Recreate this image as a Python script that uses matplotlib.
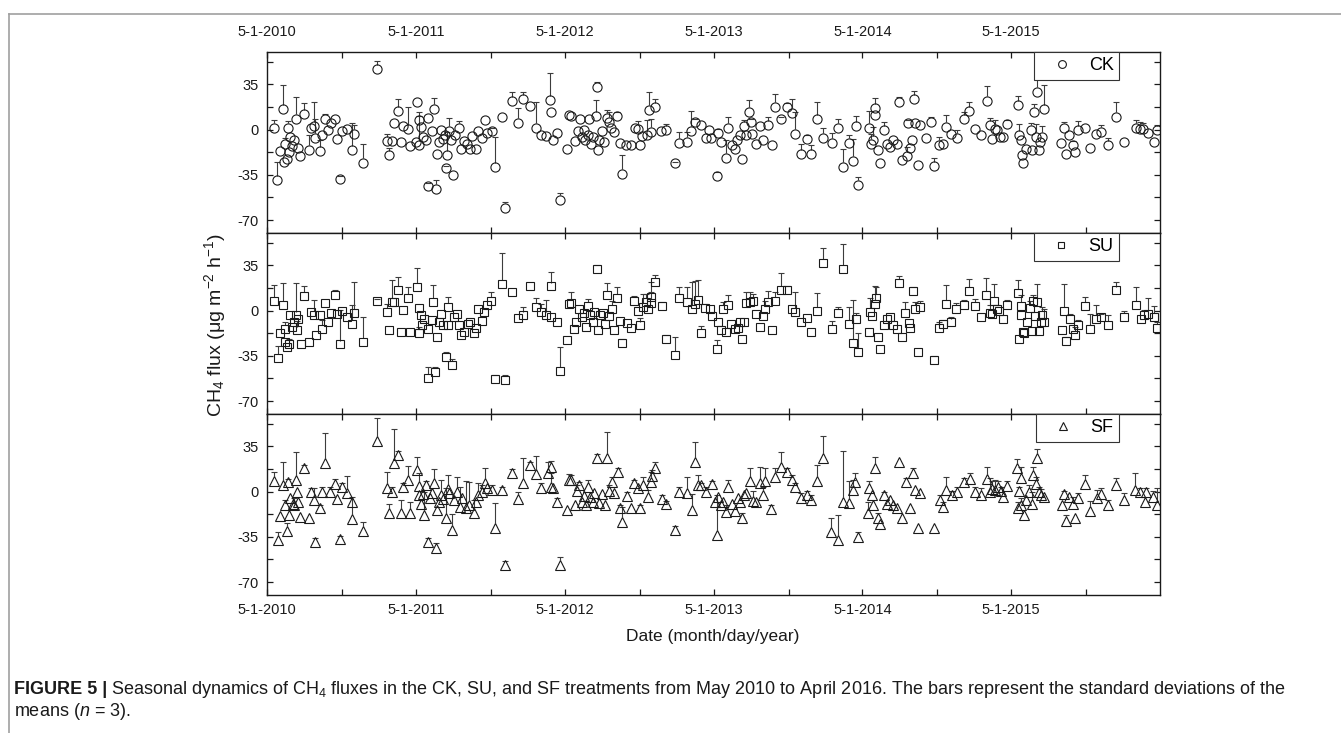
import numpy as np
import matplotlib
matplotlib.use('Agg')
import matplotlib.pyplot as plt
import matplotlib.dates as mdates
from matplotlib.lines import Line2D
from matplotlib.ticker import FixedLocator, FuncFormatter

plt.rcParams['font.family'] = ['Liberation Sans', 'DejaVu Sans']
plt.rcParams['mathtext.fontset'] = 'custom'
plt.rcParams['mathtext.rm'] = 'Liberation Sans'
plt.rcParams['mathtext.it'] = 'Liberation Sans:italic'
plt.rcParams['axes.unicode_minus'] = False

# --- data: days after 5-1-2010, mean flux, upper SD (0 = bar hidden in marker) --- #
start = np.datetime64('2010-05-01')
end = np.datetime64('2016-04-30')

ck_day = [16, 25, 33, 39, 41, 48, 45, 51, 53, 57, 62, 66, 72, 75, 82, 90, 103, 107, 116, 118,
          130, 135, 143, 149, 156, 166, 172, 178, 185, 197, 208, 213, 235, 271, 294, 300, 306, 312, 321, 329,
          334, 347, 352, 365, 369, 372, 373, 377, 382, 390, 395, 396, 404, 409, 414, 418, 422, 428, 433, 436,
          441, 438, 447, 451, 456, 461, 472, 476, 484, 490, 497, 504, 513, 518, 527, 535, 541, 552, 560, 576,
          584, 600, 617, 627, 646, 660, 673, 685, 694, 697, 701, 712, 718, 737, 742,
          747, 756, 762, 769, 772, 777, 780, 787, 791, 795, 799, 806, 811, 810, 815, 821, 828, 834, 838, 844,
          851, 859, 867, 872, 881, 893, 903, 910, 915, 920, 932, 938, 943, 951, 967, 978, 1002, 1010, 1031, 1041,
          1051, 1064, 1076, 1084, 1090, 1103, 1107, 1115, 1125, 1131, 1141, 1148, 1154, 1160, 1166, 1171, 1175, 1182, 1187, 1190,
          1201, 1209, 1216, 1230, 1238, 1246, 1260, 1277, 1287, 1295, 1309, 1324, 1335, 1350, 1363, 1387, 1400, 1414, 1427, 1437,
          1444, 1450, 1476, 1482, 1488, 1491, 1492, 1499, 1504, 1513, 1521, 1529, 1537, 1546, 1551, 1558, 1570, 1572, 1578, 1582,
          1587, 1591, 1597, 1603,
          1618, 1628, 1637, 1648, 1658, 1667, 1678, 1693, 1710, 1723, 1738, 1753, 1767, 1773, 1779, 1786, 1792, 1798, 1806, 1816,
          1843, 1845, 1849, 1853, 1856, 1863, 1874, 1878, 1882, 1886, 1890, 1893, 1896, 1902, 1907, 1947, 1956, 1961, 1968, 1978,
          1983, 1991, 2007, 2019, 2034, 2046, 2064, 2083, 2102, 2132, 2142, 2150, 2161, 2177, 2183]
ck_mean = [1.3, -39.3, -16.5, 15.8, -25.1, -23.0, -10.9, 1.3, -17.3, -5.7, -12.9, -8.3, 8.3, -14.0, -20.4, 11.9, -15.5, 1.5, 2.6, -6.5,
           -16.8, -3.9, 8.5, 0.0, 4.7, 8.0, -7.5, -38.0, -1.0, 0.8, -16.0, -3.1, -25.6, 46.5, -9.0, -19.9, -9.0, 5.4, 14.0, -9.8,
           2.6, 0.3, -12.4, -9.8, 21.4, -12.1, 7.2, 2.1, -5.7, -8.3, 9.0, -43.4, -1.0, 16.0, -45.7, -18.6, -9.6, -0.5, -7.0, -4.4,
           -19.9, -29.5, -1.0, -8.3, -35.4, -4.4, 1.5, -14.7, -9.0, -11.4, -15.0, -4.7, -14.7, -1.0, -6.5, 7.2, -2.6, -1.3, -29.2, 9.8,
           -60.5, 21.9, 5.4, 23.5, 18.1, 1.6, -4.4, -4.9, 22.7, 13.7, -7.8, -2.6, -54.3, -14.7, 11.1,
           10.3, -8.8, -1.0, 8.0, -5.7, -0.5, -8.3, -4.4, 7.8, -10.9, -5.7, 10.3, -15.5, 33.1, -7.8, -1.0, -9.6, 9.3, 5.9, 1.6,
           -2.1, 10.3, -10.1, -34.1, -12.1, -11.6, 1.0, 0.8, -11.6, -5.2, -4.4, 15.5, -1.8, 17.1, -1.0, -0.5, -25.8, -10.1, -9.3, -1.0,
           5.9, 3.4, -6.2, 0.0, -6.2, -36.2, -2.6, -9.6, -21.7, 1.6, -12.1, -14.7, -8.3, -4.4, -22.5, 2.6, -4.4, 13.7, 5.9, -3.1,
           -10.9, 2.6, -7.8, 3.4, -12.1, 17.6, 8.5, 17.1, 12.9, -3.1, -19.1, -7.0, -19.1, 7.8, -6.5, -10.3, 1.6, -28.9, -10.3, -24.3,
           2.6, -42.6, 1.6, -10.9, -8.3, 16.3, 11.1, -16.0, -25.8, -0.5, -10.9, -13.4, -8.3, -10.9, 21.4, -23.3, -20.7, 4.7, -14.0, -7.8,
           23.3, 4.7, -27.4, 3.4,
           -6.2, 5.9, -28.4, -11.6, -10.9, 2.1, -3.1, -6.2, 7.8, 14.2, 0.3, -4.4, 22.2, 3.4, -7.0, 0.8, -0.5, -5.7, -5.7, 4.1,
           18.9, -4.4, -8.3, -19.9, -25.8, -14.7, 0.0, -15.5, 13.7, -5.7, 29.2, -16.0, -9.6, -5.7, 15.8, -10.1, 1.6, -19.1, -4.4, -12.1,
           -17.3, -0.5, 1.6, -14.0, -3.1, -1.8, -12.1, 9.8, -9.6, 1.6, 0.8, 0.8, -2.6, -9.6, -0.5]
ck_sd = [5.9, 14.2, 0, 18.6, 0, 0, 4.4, 5.2, 0, 0, 0, 0, 17.1, 0, 0, 8.8, 11.1, 0, 18.9, 15.0,
         9.0, 0, 3.9, 0, 0, 0, 0, 2.1, 0, 0, 20.7, 6.5, 14.2, 6.5, 5.2, 5.9, 0, 0, 9.6, 0,
         0, 16.8, 0, 0, 0, 22.5, 6.5, 0, 0, 0, 0, 2.0, 0, 8.8, 6.5, 0, 0, 0, 0, 0,
         18.1, 1.5, 9.6, 0, 0, 0, 4.9, 0, 0, 0, 0, 0, 0, 0, 0, 0, 0, 2.8, 23.8, 0,
         4.4, 7.2, 10.9, 5.7, 0, 19.9, 0, 0, 20.9, 0, 0, 0, 5.2, 0, 0,
         0, 0, 0, 0, 0, 0, 0, 0, 0, 0, 0, 12.4, 0, 3.9, 0, 0, 0, 5.7, 7.8, 0,
         0, 3.4, 0, 14.7, 0, 0, 0, 5.7, 0, 0, 11.6, 13.7, 9.8, 6.2, 0, 4.7, 1.0, 8.3, 7.5, 15.2,
         2.6, 0, 0, 0, 0, 3.4, 3.4, 0, 13.4, 8.3, 0, 0, 0, 0, 0, 4.7, 0, 9.0, 2.6, 0,
         0, 0, 0, 6.5, 0, 10.3, 1.0, 3.1, 11.0, 16.8, 8.3, 2.6, 7.0, 13.2, 8.0, 8.0, 6.5, 14.2, 6.0, 17.3,
         7.8, 6.0, 13.0, 7.8, 10.0, 7.8, 0, 0, 0, 6.5, 0, 0, 0, 0, 3.9, 0, 7.0, 2.6, 0, 0,
         6.7, 0, 0, 0,
         0, 3.9, 6.7, 5.9, 0, 9.0, 0, 6.2, 5.9, 7.0, 0, 0, 11.6, 5.9, 0, 6.5, 0, 0, 0, 3.6,
         7.2, 8.5, 0, 0, 0, 0, 4.7, 0, 5.9, 10.3, 28.9, 0, 0, 8.5, 18.6, 0, 4.4, 0, 0, 3.1,
         0, 7.0, 0, 0, 0, 5.2, 5.2, 11.6, 0, 5.7, 5.2, 4.4, 0, 0, 4.4]

su_day = [16, 26, 33, 39, 43, 49, 54, 45, 57, 62, 66, 70, 74, 76, 84, 90, 103, 107, 116, 120,
          131, 135, 143, 150, 156, 166, 172, 178, 185, 197, 208, 213, 235, 271, 295, 300, 306, 312, 321, 328,
          334, 347, 351, 369, 372, 374, 377, 381, 386, 394, 396, 404, 408, 413, 417, 422, 428, 433, 439, 443,
          445, 453, 459, 467, 472, 476, 484, 492, 499, 507, 513, 518, 527, 533, 540, 550, 560, 576, 584, 600,
          617, 627, 646, 660, 673, 685, 696, 697, 712, 718, 737, 742,
          747, 754, 758, 766, 772, 777, 783, 788, 793, 799, 803, 810, 813, 818, 824, 829, 834, 840, 846, 851,
          859, 866, 871, 884, 893, 900, 910, 915, 922, 930, 936, 941, 943, 951, 969, 979, 1002, 1010, 1031, 1043,
          1051, 1057, 1064, 1075, 1086, 1092, 1103, 1107, 1113, 1119, 1125, 1131, 1139, 1148, 1156, 1160, 1166, 1171, 1176, 1185,
          1193, 1201, 1209, 1216, 1223, 1230, 1238, 1246, 1260, 1277, 1287, 1295, 1309, 1324, 1335, 1350, 1363, 1387, 1400, 1414,
          1427, 1437, 1445, 1450, 1476, 1480, 1484, 1491, 1494, 1500, 1504, 1513, 1521, 1529, 1537, 1546, 1551, 1558, 1566, 1574,
          1578, 1584, 1589, 1597, 1603,
          1637, 1648, 1658, 1667, 1678, 1691, 1710, 1722, 1737, 1753, 1765, 1773, 1779, 1784, 1792, 1797, 1806, 1815, 1843, 1845,
          1849, 1851, 1855, 1858, 1865, 1872, 1878, 1879, 1884, 1890, 1894, 1898, 1902, 1907, 1950, 1956, 1961, 1970, 1978, 1983,
          1991, 2007, 2019, 2034, 2046, 2064, 2083, 2102, 2132, 2144, 2152, 2161, 2177, 2183]
su_mean = [7.7, -36.7, -17.2, 4.6, -24.4, -28.2, -25.6, -14.0, -3.8, -12.8, -9.0, -3.8, -15.4, -6.4, -25.6, 11.0, -24.4, -0.8, -3.3, -19.2,
           -3.3, -14.0, 5.6, -9.0, -1.8, 12.0, -2.6, -26.2, 0.0, -5.1, -10.3, -1.8, -24.4, 7.7, -1.3, -15.4, 6.4, 6.9, 16.2, -16.2,
           0.8, 9.5, -16.2, 18.5, -17.2, 1.8, -3.8, -11.5, -6.4, -14.0, -52.0, -7.0, 6.4, -47.4, -20.5, -9.0, -2.6, -11.5, -35.9, 2.6,
           -11.5, -42.3, -5.1, -2.6, -11.5, -19.2, -16.7, -10.3, -9.0, -17.2, -13.6, 1.3, -7.7, -0.8, 4.4, 7.7, -52.6, 20.5, -53.8, 14.1,
           -5.6, -3.8, 18.7, 3.1, -0.8, -3.8, 18.7, -5.1, -9.0, -46.9, -23.1, 5.1,
           5.9, -14.1, -9.0, 1.3, -5.1, -1.8, -12.8, 3.8, -3.8, -8.5, -0.8, 32.1, -15.4, -3.8, -1.8, -10.5, 12.3, -4.4, 1.3, -15.4,
           9.7, -7.7, -24.9, -9.5, -13.6, 7.7, 0.0, -11.5, 2.6, 6.4, 1.3, 5.9, 10.3, 22.3, 3.3, -21.8, -34.6, 9.5, 6.4, 1.3,
           5.1, 8.5, -17.2, 1.8, 1.3, -4.4, -29.5, -9.0, -15.4, 1.3, -16.2, 4.4, -10.3, -14.6, -13.6, -9.0, -21.8, -9.0, 5.9, 6.9,
           7.7, -2.6, -12.8, -4.4, 1.3, 6.9, -15.4, 7.7, 16.2, 16.2, 1.3, -0.8, -8.5, -5.9, -16.7, 0.0, 36.7, -14.1, -1.8, 32.1,
           -10.3, -24.9, -6.7, -32.1, -16.7, -0.8, -4.4, 5.1, 9.5, -20.5, -30.0, -11.5, -6.4, -5.1, -11.5, -14.1, 21.3, -20.5, -1.8, -9.5,
           -13.6, 15.1, 1.3, -32.1, 2.6,
           -38.2, -13.8, -10.5, 5.4, -9.2, 1.5, 4.1, 15.4, 3.3, -4.9, 11.8, -1.5, -2.3, 7.2, 1.5, -0.5, -6.7, 4.1, 13.6, -22.1,
           3.6, -3.1, -16.4, -17.0, -8.7, 2.1, -15.9, 7.2, -4.1, 6.7, -15.9, -8.7, -3.6, -9.2, -15.1, -0.5, -23.6, -6.2, -14.4, -19.0,
           -10.8, 3.6, -14.4, -6.2, -4.9, -10.8, 15.6, -4.9, 4.6, -6.2, -3.6, -2.3, -4.9, -13.3]
su_sd = [12.1, 9.0, 0, 16.7, 0, 0, 3.8, 5.1, 0, 0, 0, 25.1, 7.7, 0, 0, 8.2, 0, 0, 11.8, 0,
         0, 6.4, 0, 0, 0, 3.8, 0, 26.7, 0, 0, 14.6, 23.6, 19.2, 1.0, 6.4, 0, 17.2, 0, 9.5, 0,
         0, 8.5, 0, 14.1, 4.4, 0, 0, 0, 0, 0, 8.5, 0, 13.3, 3.8, 0, 0, 0, 0, 3.8, 7.7,
         0, 5.1, 0, 0, 0, 0, 0, 0, 0, 0, 0, 0, 0, 0, 0, 6.4, 3.1, 24.4, 3.8, 0,
         0, 6.9, 0, 6.4, 5.9, 12.3, 10.8, 0, 0, 18.7, 0, 0,
         8.7, 0, 0, 0, 0, 0, 0, 5.1, 0, 0, 0, 3.1, 0, 0, 0, 0, 9.0, 0, 6.4, 0,
         8.2, 0, 3.1, 0, 0, 3.8, 0, 5.6, 10.3, 6.4, 0, 15.9, 3.8, 5.4, 3.1, 2.6, 14.1, 8.5, 11.5, 20.5,
         17.9, 15.1, 5.6, 3.3, 0, 0, 6.9, 0, 0, 5.6, 0, 7.7, 0, 0, 0, 0, 0, 0, 8.7, 7.2,
         5.1, 0, 0, 0, 6.4, 8.2, 0, 6.9, 12.6, 3.1, 0, 14.9, 0, 0, 0, 13.8, 11.8, 5.9, 4.4, 19.7,
         12.8, 33.3, 5.1, 14.9, 0, 10.3, 0, 13.6, 8.5, 0, 0, 0, 0, 0, 0, 0, 5.6, 0, 8.2, 0,
         0, 2.8, 5.6, 0, 5.1,
         3.3, 5.1, 3.1, 14.1, 4.4, 4.6, 3.8, 8.7, 5.9, 0, 13.6, 5.6, 0, 13.1, 2.6, 0, 0, 3.8, 10.3, 0,
         8.2, 0, 0, 0, 0, 5.4, 0, 5.1, 0, 13.6, 0, 0, 6.4, 10.8, 0, 21.3, 3.3, 3.8, 0, 6.4,
         3.3, 6.9, 12.1, 10.8, 2.6, 7.7, 6.4, 4.4, 13.6, 0, 3.8, 12.0, 8.5, 4.6]

sf_day = [16, 26, 33, 39, 45, 49, 51, 54, 57, 64, 67, 72, 74, 75, 82, 90, 103, 107, 116, 118,
          130, 135, 143, 154, 166, 172, 178, 185, 197, 208, 209, 235, 271, 294, 300, 306, 312, 321, 329, 334,
          347, 352, 369, 372, 373, 377, 382, 386, 390, 395, 400, 404, 410, 414, 418, 422, 428, 433, 439, 443,
          447, 455, 459, 467, 474, 479, 488, 496, 507, 513, 518, 527, 535, 541, 552, 560, 576, 584, 600, 615,
          629, 646, 660, 673, 689, 696, 697, 701, 712, 718, 737, 742,
          747, 756, 760, 766, 772, 777, 783, 788, 793, 799, 803, 810, 815, 821, 829, 834, 840, 846, 851, 860,
          867, 872, 883, 893, 900, 910, 915, 923, 936, 941, 945, 953, 969, 979, 1002, 1010, 1031, 1043, 1049, 1057,
          1064, 1077, 1092, 1100, 1103, 1107, 1113, 1119, 1125, 1132, 1141, 1148, 1156, 1160, 1166, 1171, 1176, 1185, 1193, 1201,
          1209, 1216, 1223, 1236, 1246, 1260, 1277, 1287, 1295, 1309, 1324, 1335, 1350, 1363, 1385, 1400, 1414, 1427, 1437, 1443,
          1450, 1474, 1476, 1484, 1488, 1492, 1500, 1504, 1513, 1521, 1529, 1537, 1546, 1551, 1558, 1568, 1578, 1584, 1589, 1597,
          1603,
          1637, 1650, 1658, 1667, 1680, 1693, 1710, 1724, 1738, 1753, 1767, 1775, 1779, 1787, 1793, 1800, 1806, 1816, 1841, 1843,
          1845, 1849, 1851, 1857, 1863, 1869, 1878, 1879, 1886, 1890, 1894, 1900, 1907, 1950, 1956, 1961, 1968, 1978, 1983, 1991,
          2007, 2019, 2036, 2046, 2064, 2083, 2102, 2130, 2142, 2155, 2157, 2175, 2183]
sf_mean = [8.2, -37.4, -18.6, 5.2, -10.3, -30.2, 7.7, -18.0, -5.2, -9.8, -10.3, 9.0, -0.5, -7.7, -19.3, 18.0, -20.1, -0.5, -6.4, -38.7,
           -12.9, -0.5, 21.9, -0.5, 6.2, -5.9, -36.6, 3.9, -1.3, -21.4, -7.7, -30.2, 39.4, 3.1, -16.8, -0.5, 21.9, 28.4, -16.8, 3.9,
           8.8, -16.8, 16.8, 4.6, -2.6, -9.8, -2.1, -18.0, 5.2, -38.7, -5.2, -1.3, 6.4, -43.3, -14.2, -7.7, -2.6, -5.7, -20.6, 2.1,
           -1.3, -29.6, -6.4, -0.5, -11.6, -5.2, -12.9, -10.3, -16.8, -7.7, -2.6, 0.0, 6.4, 3.1, 1.3, -28.4, 1.3, -56.7, 14.2, -5.7,
           6.4, 20.6, 13.7, 2.6, 14.2, 19.3, 3.9, 3.1, -7.7, -56.7, -14.2, 9.0,
           9.0, -10.3, 0.5, 5.2, -7.7, -3.1, -10.3, 3.9, -3.9, -7.7, -1.3, 25.8, -9.0, -2.1, -10.3, 25.8, 0.5, 7.7, -1.3, 15.5,
           -12.9, -23.7, -3.1, -12.9, 7.0, 3.1, -12.9, 5.2, -3.9, 7.7, 12.4, 18.0, -5.7, -9.8, -29.6, -0.5, -1.3, -14.2, 22.7, 5.2,
           5.2, -0.5, 5.7, -7.7, -33.5, -3.9, -10.3, -7.7, -16.0, 3.9, -9.8, -14.9, -5.2, -7.7, -20.6, -2.6, -1.3, 8.2, -7.2, -8.2,
           6.4, -2.6, 8.2, -13.4, 11.6, 19.3, 15.5, 9.0, 3.9, -4.6, -2.6, -6.4, 8.2, 25.8, -30.9, -37.4, -7.7, -9.0, 1.3, 7.7,
           -34.8, -16.8, 2.6, -2.6, -10.3, 18.0, -20.6, -25.3, -2.6, -9.8, -6.4, -10.3, -12.9, 23.2, -20.6, 7.7, -12.9, 14.2, 1.3, -28.4,
           -1.3,
           -27.8, -6.4, -11.6, 1.3, -2.6, 0.0, 7.7, 9.8, -0.5, -2.6, 9.8, -0.5, 2.1, 1.3, 3.9, 0.5, -3.9, 4.6, 18.6, -12.9,
           0.5, 10.8, -10.3, -18.0, -6.4, -0.5, -9.8, 12.9, 5.7, 25.8, -0.5, -2.6, -3.9, -10.3, -2.1, -22.7, -3.9, -9.8, -20.6, -4.6,
           5.7, -14.9, -4.6, -2.1, -10.3, 5.2, -6.4, 1.3, -0.5, -8.2, -0.5, -3.9, -10.3]
sf_sd = [6.7, 6.4, 0, 18.0, 3.9, 5.7, 2.1, 0, 0, 0, 5.2, 21.9, 0, 0, 0, 2.6, 0, 3.1, 9.0, 3.1,
         2.6, 4.4, 23.2, 4.4, 3.6, 0, 2.6, 2.6, 13.7, 17.5, 0, 7.0, 17.8, 12.4, 7.0, 4.4, 26.5, 2.6, 10.3, 2.6,
         10.6, 9.0, 10.3, 9.5, 0, 0, 0, 18.0, 2.6, 3.1, 0, 0, 11.1, 3.4, 0, 0, 11.6, 0, 23.7, 10.8,
         0, 12.1, 0, 12.1, 15.5, 0, 21.1, 18.0, 10.3, 0, 9.0, 5.2, 11.6, 0, 3.4, 19.3, 2.6, 3.1, 3.4, 5.2,
         19.8, 2.1, 14.2, 3.9, 9.0, 4.4, 10.3, 0, 2.6, 6.4, 0, 4.4,
         3.9, 0, 4.6, 2.1, 0, 0, 0, 5.2, 0, 0, 0, 3.1, 0, 0, 0, 20.6, 4.6, 3.9, 0, 2.6,
         2.6, 12.1, 2.6, 0, 2.1, 0, 2.6, 6.4, 5.2, 7.7, 4.4, 5.2, 3.1, 2.8, 2.6, 4.4, 12.9, 12.1, 15.5, 7.7,
         1.3, 4.4, 2.1, 0, 30.9, 0, 0, 0, 5.7, 5.2, 0, 0, 0, 0, 3.9, 0, 0, 9.8, 7.7, 0,
         12.9, 6.4, 9.8, 3.1, 6.4, 11.1, 3.1, 3.9, 2.6, 3.4, 3.4, 3.9, 12.4, 16.8, 10.3, 19.3, 39.4, 16.8, 7.7, 6.4,
         3.9, 8.5, 5.2, 0, 0, 9.0, 3.9, 0, 2.6, 0, 0, 0, 0, 0, 0, 2.6, 0, 4.4, 0, 0,
         0,
         0, 3.4, 3.9, 10.3, 3.1, 3.9, 3.1, 4.4, 4.4, 5.2, 9.5, 11.3, 5.7, 7.7, 3.9, 3.4, 0, 3.6, 6.7, 4.6,
         3.4, 8.5, 5.7, 0, 0, 5.7, 9.8, 6.4, 5.2, 7.0, 4.4, 4.6, 0, 0, 2.6, 4.6, 0, 5.9, 0, 3.4,
         7.2, 7.7, 5.9, 4.6, 3.9, 5.2, 5.2, 12.9, 3.1, 0, 3.6, 4.4, 12.9]

treatments = ['CK', 'SU', 'SF']
markers = ['o', 's', '^']
msizes = [6.6, 5.6, 7.2]

ylo, yhi = -80, 60
ink = '#1a1a1a'
bar_col = '#3c3c3c'


def to_dates(days):
    return start + np.asarray(days).astype('timedelta64[D]')


def date_label(v, pos):
    d = mdates.num2date(v)
    return '%d-%d-%d' % (d.month, d.day, d.year)


def draw_panel(ax, day, mean, sd, marker, ms, label):
    x = to_dates(day)
    y = np.asarray(mean, dtype=float)
    e = np.asarray(sd, dtype=float)
    # marker half height in data units, bars start at the marker edge
    ax_h_px = ax.get_position().height * fig.bbox.height
    r = ms / 2 * 100 / 72 / (ax_h_px / (yhi - ylo))
    stem = e > r
    ax.vlines(x[stem], (y + r)[stem], (y + e)[stem], colors=bar_col, lw=0.8, zorder=2)
    has = e > 0
    ax.plot(x[has], (y + e)[has], ls='none', marker='_', ms=5, mew=0.8, color=bar_col, zorder=2)
    ax.plot(x, y, ls='none', marker=marker, ms=ms, mfc='none', mec=ink, mew=0.8, zorder=3)

    h = Line2D([], [], ls='none', marker=marker, ms=ms * 0.85, mfc='none', mec=ink, mew=0.8)
    leg = ax.legend([h], [label], loc='upper right', bbox_to_anchor=(0.954, 1.0), borderaxespad=0,
                    fancybox=False, framealpha=1, edgecolor='#333333', fontsize=13,
                    handlelength=2.4, handletextpad=0.3, borderpad=0.3)
    leg.get_frame().set_linewidth(0.8)

    ax.set_xlim(start, end)
    ax.set_ylim(ylo, yhi)
    ax.xaxis.set_major_locator(mdates.MonthLocator(bymonth=5, bymonthday=1))
    ax.xaxis.set_minor_locator(mdates.MonthLocator(bymonth=11, bymonthday=1))
    ax.xaxis.set_major_formatter(FuncFormatter(date_label))
    ax.yaxis.set_major_locator(FixedLocator([-70, -35, 0, 35]))
    ax.yaxis.set_minor_locator(FixedLocator([-52.5, -17.5, 17.5, 52.5]))
    ax.tick_params(which='both', direction='in', top=True, right=True, length=4, width=0.9,
                   labelsize=10.5, colors=ink)
    ax.tick_params(axis='y', pad=6)
    for s in ax.spines.values():
        s.set_linewidth(1.0)
        s.set_color(ink)


fig = plt.figure(figsize=(13.41, 7.33), dpi=100)
left, width = 267 / 1341, 893 / 1341
height = 181 / 733
bottoms = [1 - 233 / 733, 1 - 414 / 733, 1 - 595 / 733]
data = [(ck_day, ck_mean, ck_sd), (su_day, su_mean, su_sd), (sf_day, sf_mean, sf_sd)]

axes = []
for i, (d, m, s) in enumerate(data):
    ax = fig.add_axes([left, bottoms[i], width, height])
    draw_panel(ax, d, m, s, markers[i], msizes[i], treatments[i])
    axes.append(ax)

axes[0].tick_params(axis='x', labeltop=True, labelbottom=False, pad=9)
axes[1].tick_params(axis='x', labelbottom=False)
axes[2].tick_params(axis='x', pad=6)

fig.text(215 / 1341, 1 - 325 / 733, 'CH$_4$ flux (μg m$^{-2}$ h$^{-1}$)', rotation=90,
         ha='center', va='center', fontsize=14, color=ink)
fig.text(713 / 1341, 1 - 636 / 733, 'Date (month/day/year)', ha='center', va='center',
         fontsize=12.5, color=ink)

# page frame
fig.add_artist(Line2D([9 / 1341, 9 / 1341], [0, 1 - 14 / 733], transform=fig.transFigure,
                      color='#a0a0a0', lw=1.2))
fig.add_artist(Line2D([9 / 1341, 1], [1 - 14 / 733, 1 - 14 / 733], transform=fig.transFigure,
                      color='#a0a0a0', lw=1.2))

# caption
cap_x = 14 / 1341
cap_fs = 13
t1 = fig.text(cap_x, 1 - 690 / 733, 'FIGURE 5 |', fontweight='bold', fontsize=cap_fs,
              va='center', color=ink)
fig.canvas.draw()
bb = t1.get_window_extent()
fig.text(bb.x1 / fig.bbox.width + 4 / 1341, 1 - 690 / 733,
         'Seasonal dynamics of CH$_4$ fluxes in the CK, SU, and SF treatments from May 2010 to April 2016. '
         'The bars represent the standard deviations of the',
         fontsize=cap_fs, va='center', color=ink)
fig.text(cap_x, 1 - 712 / 733, 'means ($n$ = 3).', fontsize=cap_fs, va='center', color=ink)

fig.savefig('out.png', dpi=100)
